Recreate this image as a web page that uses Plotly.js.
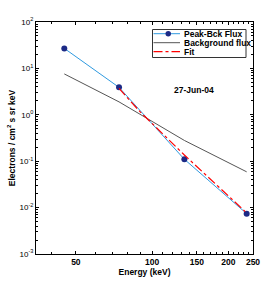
<!DOCTYPE html>
<html><head><meta charset="utf-8">
<script src="https://cdn.plot.ly/plotly-3.0.1.min.js"></script>
<style>html,body{margin:0;padding:0;background:#fff}#chart{width:280px;height:287px}</style>
</head><body><div id="chart"></div>
<script>
// Data
var energy = [45, 74, 134, 236];
var peakBck = [27, 3.9, 0.11, 0.0074];
var bgEnergy = [45, 74, 134, 236];
var background = [7.6, 1.9, 0.28, 0.059];
var fitEnergy = [74, 89.5, 134, 233];
var fitFlux = [3.7, 1.17, 0.136, 0.0082];
var xTickVals = [50, 100, 150, 200, 250];
var xTickText = ['50', '100', '150', '200', '250'];
var xMinor = [40, 60, 70, 80, 90, 110, 120, 130, 140, 160, 170, 180, 190, 210, 220, 230, 240];
var yTickVals = [1e-3, 1e-2, 1e-1, 1, 10, 100];
var yTickText = ['10<sup>-3</sup>', '10<sup>-2</sup>', '10<sup>-1</sup>', '10<sup>0</sup>', '10<sup>1</sup>', '10<sup>2</sup>'];
var legendNames = ['Peak-Bck Flux', 'Background flux', 'Fit'];
var dateLabel = '27-Jun-04';

var yMinor = [];
for (var e = -3; e < 2; e++) for (var d = 2; d <= 9; d++) yMinor.push(d * Math.pow(10, e));

var FONT = 'Liberation Sans, Arial, sans-serif';
var L = 36, R = 253, T = 22, B = 254;
function px(x){return (x - L) / (R - L);}
function py(y){return (B - y) / (B - T);}

var blue = '#2f9ae0', navy = '#1c2a86', gray = '#555555', red = '#ff0000';

var traces = [
  {x: bgEnergy, y: background, type: 'scatter', mode: 'lines', line: {color: gray, width: 1}, name: legendNames[1]},
  {x: energy, y: peakBck, type: 'scatter', mode: 'lines+markers', line: {color: blue, width: 1},
   marker: {color: navy, size: 6}, name: legendNames[0]},
  {x: fitEnergy, y: fitFlux, type: 'scatter', mode: 'lines', line: {color: red, width: 1.2, dash: 'dashdot'}, name: legendNames[2]}
];

var ly = [33.7, 42.7, 51.7];
var shapes = [
  {type: 'rect', xref: 'paper', yref: 'paper', x0: px(152.5), x1: px(246), y0: py(57.5), y1: py(29.5),
   line: {color: '#333', width: 1}, fillcolor: '#fff', layer: 'above'},
  {type: 'line', xref: 'paper', yref: 'paper', x0: px(153.5), x1: px(180), y0: py(ly[0]), y1: py(ly[0]), line: {color: blue, width: 1}},
  {type: 'circle', xref: 'paper', yref: 'paper', x0: px(165.5), x1: px(171), y0: py(ly[0] + 2.75), y1: py(ly[0] - 2.75), line: {color: navy, width: 0}, fillcolor: navy},
  {type: 'line', xref: 'paper', yref: 'paper', x0: px(153.5), x1: px(180), y0: py(ly[1]), y1: py(ly[1]), line: {color: gray, width: 1}},
  {type: 'line', xref: 'paper', yref: 'paper', x0: px(153.5), x1: px(180), y0: py(ly[2]), y1: py(ly[2]), line: {color: red, width: 1.2, dash: 'dashdot'}}
];
var annotations = legendNames.map(function(n, i){
  return {xref: 'paper', yref: 'paper', x: px(181.5), y: py(ly[i]), xanchor: 'left', yanchor: 'middle',
    text: '<b>' + n + '</b>', showarrow: false, font: {family: FONT, size: 8.5, color: '#000'}};
});
annotations.push({xref: 'paper', yref: 'paper', x: px(193.5), y: py(89.5), xanchor: 'center', yanchor: 'middle',
  text: '<b>' + dateLabel + '</b>', showarrow: false, font: {family: FONT, size: 8.5, color: '#000'}});

var layout = {
  width: 280, height: 287,
  margin: {l: L, r: 280 - R, t: T, b: 287 - B, pad: 0},
  paper_bgcolor: '#fff', plot_bgcolor: '#fff',
  showlegend: false,
  font: {family: FONT, size: 8, color: '#000'},
  xaxis: {type: 'log', range: [Math.log10(34.8), Math.log10(250)],
    tickmode: 'array', tickvals: xTickVals, ticktext: xTickText.map(function(t){return '<b>' + t + '</b>';}),
    ticks: 'inside', ticklen: 3, tickcolor: '#000', showline: true, linecolor: '#000', linewidth: 1,
    mirror: 'allticks', showgrid: false, zeroline: false,
    minor: {tickmode: 'array', tickvals: xMinor, ticks: 'inside', ticklen: 2, tickcolor: '#000', showgrid: false},
    tickfont: {family: FONT, size: 8.5},
    title: {text: '<b>Energy (keV)</b>', font: {family: FONT, size: 8.5}, standoff: 2}},
  yaxis: {type: 'log', range: [-3, 2],
    tickmode: 'array', tickvals: yTickVals, ticktext: yTickText,
    ticks: 'inside', ticklen: 3, tickcolor: '#000', showline: true, linecolor: '#000', linewidth: 1,
    mirror: 'allticks', showgrid: false, zeroline: false,
    minor: {tickmode: 'array', tickvals: yMinor, ticks: 'inside', ticklen: 2, tickcolor: '#000', showgrid: false},
    tickfont: {family: FONT, size: 8},
    title: {text: '<b>Electrons / cm<sup>2</sup> s sr keV</b>', font: {family: FONT, size: 8.5}, standoff: 2}},
  shapes: shapes,
  annotations: annotations
};

Plotly.newPlot('chart', traces, layout, {displayModeBar: false, staticPlot: true});
</script></body></html>
